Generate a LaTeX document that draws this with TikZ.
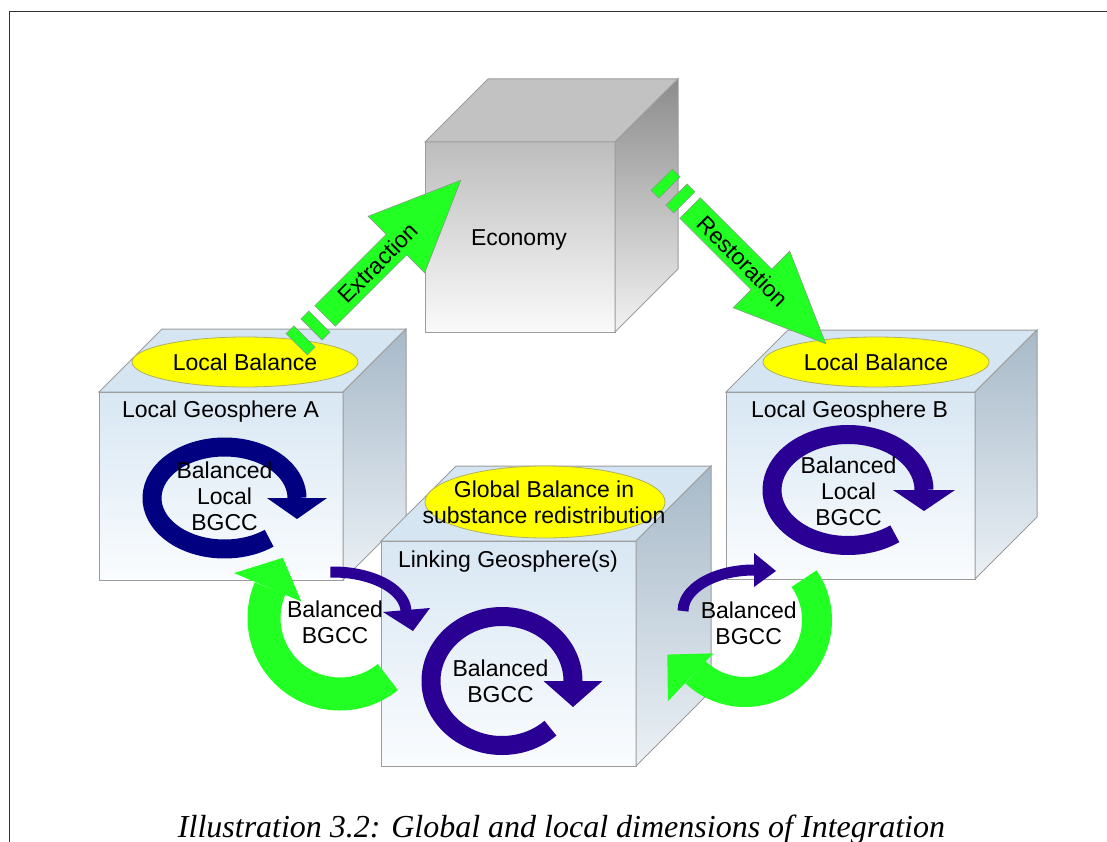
\documentclass[tikz,border=0pt]{standalone}
\usepackage{fontspec}
\setmainfont{Liberation Sans}
\newfontfamily\captionserif{Liberation Serif}
\usetikzlibrary{shapes.geometric}
\definecolor{ecofronttop}{HTML}{BDBDBD}
\definecolor{ecofrontbot}{HTML}{FAFAFA}
\definecolor{ecotopface}{HTML}{C2C2C2}
\definecolor{ecosidetop}{HTML}{8C8C8C}
\definecolor{ecosidebot}{HTML}{F2F2F2}
\definecolor{geofronttop}{HTML}{D8E7F3}
\definecolor{geofrontbot}{HTML}{FAFCFE}
\definecolor{geotopface}{HTML}{D5E6F2}
\definecolor{geosidetop}{HTML}{A7B9C8}
\definecolor{geosidebot}{HTML}{EBF1F6}
\definecolor{cubeline}{HTML}{9C9C9C}
\definecolor{flowgreen}{HTML}{22FF22}
\definecolor{flowline}{HTML}{7F9F7F}
\definecolor{cyclenavy}{HTML}{000080}
\definecolor{cycleindigo}{HTML}{2A0094}
\definecolor{balanceyellow}{HTML}{FFFF00}
\definecolor{balanceline}{HTML}{B0B060}
% cube: front lower-left, width, height, depth, colour set
\newcommand{\geocube}[5]{%
  \begin{scope}[shift={#1}]
    \shade[top color=#5fronttop,bottom color=#5frontbot,draw=cubeline,line width=1pt] (0,0) rectangle (#2,#3);
    \fill[#5topface,draw=cubeline,line width=1pt] (0,#3) -- ++(#4,#4) -- ++(#2,0) -- (#2,#3) -- cycle;
    \shade[top color=#5sidetop,bottom color=#5sidebot,draw=cubeline,line width=1pt] (#2,0) -- ++(#4,#4) -- ++(0,#3) -- (#2,#3) -- cycle;
  \end{scope}}
% block arrow with two dashes behind its tail
\newcommand{\flowarrow}[4]{%
  \begin{scope}[shift={#1},rotate=#2]
    \draw[flow] (0,-14.5) -- (101,-14.5) -- (101,-40) -- (192,0) -- (101,40) -- (101,14.5) -- (0,14.5) -- cycle;
    \draw[flow] (-8,-15) rectangle (-19,15);
    \draw[flow] (-29,-15) rectangle (-40,15);
    \node[txt,rotate=#2] (#4) at (75,0) {#3};
  \end{scope}}
% elliptic cycle arrow: colour, centre, x radius, y radius, tail angle, head half width, head length
\newcommand{\bgccring}[7]{%
  \begin{scope}[shift={#2}]
    \draw[#1,line width=19pt] (#5:#3 and #4) arc[start angle=#5,end angle=-360,x radius=#3,y radius=#4];
    \fill[#1] (#3-#6,0) -- (#3,-#7) -- (#3+#6,0) -- cycle;
  \end{scope}}

\begin{document}
\begin{tikzpicture}[
  x=1pt,y=1pt,
  txt/.style={font=\fontsize{23}{26}\selectfont,inner sep=0pt,align=center},
  balance/.style={ellipse,draw=balanceline,fill=balanceyellow,line width=0.8pt,inner sep=0pt},
  flow/.style={fill=flowgreen,draw=flowline,line width=0.6pt},
  pageframe/.style={draw=black!80,line width=1.5pt}
]
\useasboundingbox (0,0) rectangle (1107,-842);
\draw[pageframe] (1107,-11.5) -- (9.5,-11.5) -- (9.5,-842);

% geospheres and the economy
\geocube{(99,-580)}{244}{188}{63}{geo}
\geocube{(726,-579)}{249}{187}{62}{geo}
\geocube{(425,-332)}{190}{190}{63}{eco}
\geocube{(381,-766)}{255}{225}{75}{geo}

\node[balance,minimum width=226pt,minimum height=50pt,txt] (balA) at (245,-362) {Local Balance};
\node[balance,minimum width=226pt,minimum height=50pt,txt] (balB) at (876,-362) {Local Balance};
\node[balance,minimum width=240pt,minimum height=72pt] (balL) at (545,-502) {};
\node[txt,anchor=north] (balLtext) at (544,-481) {Global Balance in\\substance redistribution};

\node[txt,anchor=base] (economy) at (519,-245) {Economy};
\node[txt,anchor=base] (geoA) at (220.5,-417) {Local Geosphere A};
\node[txt,anchor=base] (geoB) at (849.5,-417) {Local Geosphere B};
\node[txt,anchor=base] (geoL) at (508,-567) {Linking Geosphere(s)};

% cycles inside each geosphere
\bgccring{cyclenavy}{(224.5,-498)}{72.5}{51}{-52}{30}{21}
\bgccring{cycleindigo}{(848,-490)}{76}{55.5}{-52}{31}{21}
\bgccring{cycleindigo}{(502,-681)}{71}{64.5}{-47}{29.5}{26}

\node[txt,anchor=north] (bgccA) at (224.5,-461.5) {Balanced\\Local\\BGCC};
\node[txt,anchor=north] (bgccB) at (848.5,-456.5) {Balanced\\Local\\BGCC};
\node[txt,anchor=north] (bgccL) at (500.5,-659.5) {Balanced\\BGCC};

% exchange with the economy
\flowarrow{(325,-316)}{45}{Extraction}{extraction}
\flowarrow{(690,-208)}{-45}{Restoration}{restoration}

% cycles between the geospheres
\begin{scope}[shift={(340,-618)}]
  \draw[flowgreen,line width=33pt] (-51:76) arc[start angle=-51,end angle=-203,radius=76];
  \fill[flowgreen] (157:42) -- (133.5:83) -- (157:115) -- cycle;
\end{scope}
\begin{scope}[shift={(745,-620)}]
  \draw[flowgreen,line width=30pt] (35:72) arc[start angle=35,end angle=-133.5,radius=72];
  \fill[flowgreen] (-133.5:46) -- (-156:85) -- (-133.5:112) -- cycle;
\end{scope}
\begin{scope}[shift={(333,-612)}]
  \draw[cycleindigo,line width=11pt] (92:73 and 40) arc[start angle=92,end angle=-4,x radius=73,y radius=40];
  \fill[cycleindigo] (50,0) -- (80,-19) -- (97,4) -- cycle;
\end{scope}
\begin{scope}[shift={(754,-611)}]
  \draw[cycleindigo,line width=11pt] (180:71 and 41) arc[start angle=180,end angle=88,x radius=71,y radius=41];
  \fill[cycleindigo] (0,24) -- (22,40) -- (0,58) -- cycle;
\end{scope}

\node[txt,anchor=north] (bgccAL) at (335,-600.7) {Balanced\\BGCC};
\node[txt,anchor=north] (bgccLB) at (748.7,-601.7) {Balanced\\BGCC};

\node[anchor=base,inner sep=0pt,font=\captionserif\itshape\fontsize{32}{38}\selectfont] (caption) at (561.5,-837) {Illustration 3.2: Global and local dimensions of Integration};
\end{tikzpicture}
\end{document}
